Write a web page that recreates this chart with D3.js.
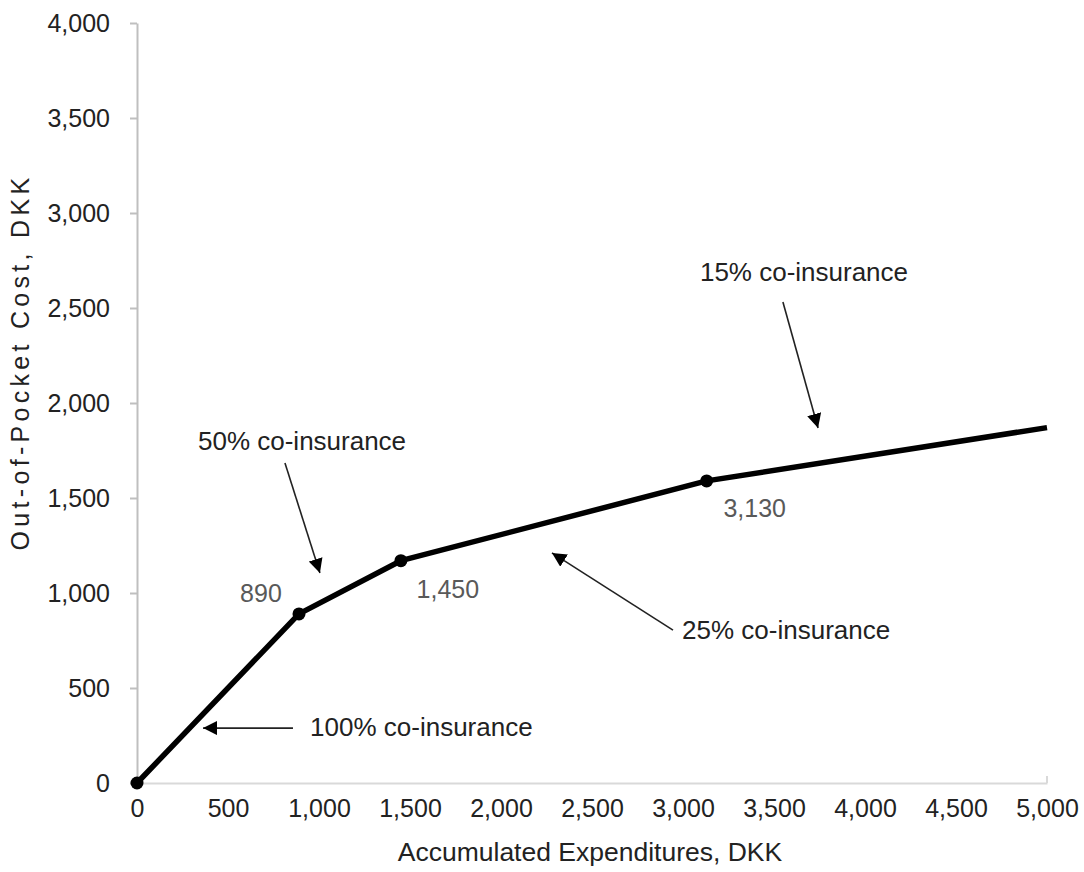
<!DOCTYPE html>
<html><head><meta charset="utf-8">
<script src="https://cdn.jsdelivr.net/npm/d3@7"></script>
<style>body{margin:0;background:#fff}svg{display:block}text{font-family:"Liberation Sans",Arial,sans-serif}</style>
</head><body>
<svg id="c" width="1084" height="872"></svg>
<script>
// Data
const expenditures = [0, 890, 1450, 3130, 5000];
const outOfPocket = [0, 890, 1170, 1590, 1870.5];
const markerIdx = [0, 1, 2, 3];
const pointLabels = ["", "890", "1,450", "3,130"];
const xTicks = [0, 500, 1000, 1500, 2000, 2500, 3000, 3500, 4000, 4500, 5000];
const yTicks = [0, 500, 1000, 1500, 2000, 2500, 3000, 3500, 4000];
const xTitle = "Accumulated Expenditures, DKK";
const yTitle = "Out-of-Pocket Cost, DKK";
const annoText = ["50% co-insurance", "15% co-insurance", "25% co-insurance", "100% co-insurance"];
const annoTextPos = [[335, 1753], [3093, 2642], [2995, 758], [951, 247]];
const arrowFrom = [[813, 1684], [3549, 2532], [2945, 805], [857, 289]];
const arrowTo = [[1005, 1105], [3742, 1868], [2280, 1211], [363, 289]];

const svg = d3.select("#c");
const x = d3.scaleLinear().domain([0, 5000]).range([137, 1047]);
const y = d3.scaleLinear().domain([0, 4000]).range([783, 23]);
const fmt = d3.format(",");

// Y axis
const ya = svg.append("g").attr("transform", `translate(${x(0)},0)`)
  .call(d3.axisLeft(y).tickValues(yTicks).tickFormat(fmt).tickSizeInner(7).tickSizeOuter(0).tickPadding(20));
ya.select(".domain").attr("stroke", "#bfbfbf").attr("stroke-width", 2);
ya.selectAll(".tick line").attr("stroke", "#bfbfbf").attr("stroke-width", 2);
ya.selectAll(".tick text").attr("font-size", 25).attr("fill", "#222").attr("font-family", "Liberation Sans, Arial, sans-serif");

// X axis
const xa = svg.append("g").attr("transform", `translate(0,${y(0)})`)
  .call(d3.axisBottom(x).tickValues(xTicks).tickFormat(fmt).tickSize(0).tickPadding(16));
xa.select(".domain").attr("stroke", "#d9d9d9").attr("stroke-width", 2);
xa.selectAll(".tick text").attr("font-size", 25).attr("fill", "#222").attr("font-family", "Liberation Sans, Arial, sans-serif");
svg.append("line").attr("x1", x(5000)).attr("x2", x(5000)).attr("y1", y(0)).attr("y2", y(0) - 7)
  .attr("stroke", "#d9d9d9").attr("stroke-width", 2);

// Titles
svg.append("text").attr("x", (x(0) + x(5000)) / 2 - 2).attr("y", 861).attr("text-anchor", "middle")
  .attr("font-size", 26.5).attr("fill", "#222").text(xTitle);
svg.append("text").attr("transform", `translate(29,${(y(0) + y(4000)) / 2 - 41}) rotate(-90)`).attr("text-anchor", "middle")
  .attr("font-size", 25).attr("fill", "#222").attr("letter-spacing", 4.3).text(yTitle);

// Line
const pts = expenditures.map((d, i) => [d, outOfPocket[i]]);
svg.append("path").datum(pts)
  .attr("d", d3.line().x(d => x(d[0])).y(d => y(d[1])))
  .attr("fill", "none").attr("stroke", "#000").attr("stroke-width", 5.5).attr("stroke-linejoin", "round");
svg.selectAll("circle.m").data(markerIdx).join("circle").attr("class", "m")
  .attr("cx", i => x(expenditures[i])).attr("cy", i => y(outOfPocket[i])).attr("r", 6.5).attr("fill", "#000");

// Point labels
const labOff = [[0, 0], [-38, -12], [47, 37], [48, 36]];
svg.selectAll("text.pl").data(markerIdx.filter(i => pointLabels[i])).join("text").attr("class", "pl")
  .attr("x", i => x(expenditures[i]) + labOff[i][0]).attr("y", i => y(outOfPocket[i]) + labOff[i][1])
  .attr("text-anchor", "middle").attr("font-size", 25).attr("fill", "#595959").text(i => pointLabels[i]);

// Annotations
const defs = svg.append("defs");
defs.append("marker").attr("id", "ah").attr("viewBox", "0 0 10 10").attr("refX", 10).attr("refY", 5)
  .attr("markerWidth", 9).attr("markerHeight", 9).attr("markerUnits", "strokeWidth").attr("orient", "auto")
  .append("path").attr("d", "M0,0 L10,5 L0,10 Z").attr("fill", "#000");
annoText.forEach((t, i) => {
  svg.append("text").attr("x", x(annoTextPos[i][0])).attr("y", y(annoTextPos[i][1]))
    .attr("font-size", 26).attr("fill", "#222").text(t);
  svg.append("line").attr("x1", x(arrowFrom[i][0])).attr("y1", y(arrowFrom[i][1]))
    .attr("x2", x(arrowTo[i][0])).attr("y2", y(arrowTo[i][1]))
    .attr("stroke", "#222").attr("stroke-width", 1.6).attr("marker-end", "url(#ah)");
});
</script>
</body></html>
